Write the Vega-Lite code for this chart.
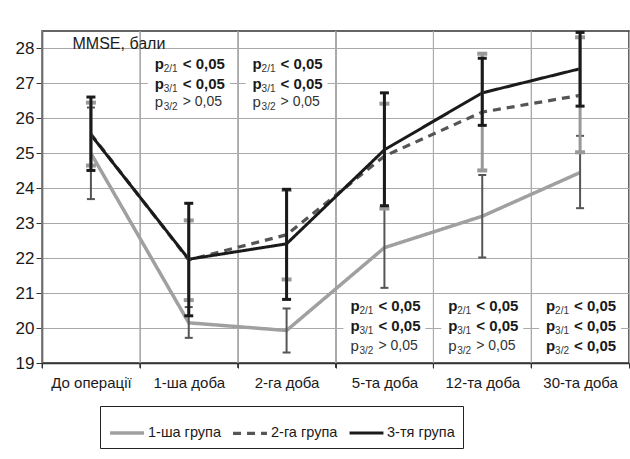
{
  "$schema": "https://vega.github.io/schema/vega-lite/v6.json",
  "width": 587,
  "height": 332,
  "autosize": {"type": "none"},
  "padding": {"left": 42, "top": 31, "right": 1, "bottom": 96},
  "background": "white",
  "config": {
    "font": "Liberation Sans",
    "view": {"stroke": "#333333", "strokeWidth": 1.5},
    "axis": {"domainColor": "#333333", "tickColor": "#333333", "gridColor": "#aaaaaa", "gridWidth": 1, "labelColor": "#1a1a1a", "domainWidth": 1.5},
    "axisX": {"tickBand": "extent", "grid": true, "tickSize": 5, "labelFontSize": 15, "labelPadding": 7, "labelAngle": 0, "title": null},
    "axisY": {"tickCount": 10, "grid": true, "tickSize": 6, "labelFontSize": 17, "labelPadding": 2}
  },
  "datasets": {
    "series": [
      {"day": "До операції", "group": "1-ша група", "mean": 25.0, "lo": 23.69, "hi": 26.31},
      {"day": "1-ша доба", "group": "1-ша група", "mean": 20.15, "lo": 19.72, "hi": 20.6},
      {"day": "2-га доба", "group": "1-ша група", "mean": 19.93, "lo": 19.3, "hi": 20.56},
      {"day": "5-та доба", "group": "1-ша група", "mean": 22.3, "lo": 21.15, "hi": 23.45},
      {"day": "12-та доба", "group": "1-ша група", "mean": 23.2, "lo": 22.02, "hi": 24.38},
      {"day": "30-та доба", "group": "1-ша група", "mean": 24.45, "lo": 23.43, "hi": 25.5},
      {"day": "До операції", "group": "2-га група", "mean": 25.55, "lo": 24.65, "hi": 26.45},
      {"day": "1-ша доба", "group": "2-га група", "mean": 21.95, "lo": 20.8, "hi": 23.08},
      {"day": "2-га доба", "group": "2-га група", "mean": 22.67, "lo": 21.39, "hi": 23.95},
      {"day": "5-та доба", "group": "2-га група", "mean": 24.92, "lo": 23.42, "hi": 26.42},
      {"day": "12-та доба", "group": "2-га група", "mean": 26.18, "lo": 24.51, "hi": 27.85},
      {"day": "30-та доба", "group": "2-га група", "mean": 26.66, "lo": 25.03, "hi": 28.32},
      {"day": "До операції", "group": "3-тя група", "mean": 25.53, "lo": 24.51, "hi": 26.61},
      {"day": "1-ша доба", "group": "3-тя група", "mean": 21.97, "lo": 20.35, "hi": 23.57},
      {"day": "2-га доба", "group": "3-тя група", "mean": 22.41, "lo": 20.82, "hi": 23.97},
      {"day": "5-та доба", "group": "3-тя група", "mean": 25.1, "lo": 23.5, "hi": 26.73},
      {"day": "12-та доба", "group": "3-тя група", "mean": 26.73, "lo": 25.8, "hi": 27.72},
      {"day": "30-та доба", "group": "3-тя група", "mean": 27.42, "lo": 26.35, "hi": 28.46}
    ],
    "notes": [
      {"day": "1-ша доба", "y": 27.56, "sub": "2/1", "rel": "< 0,05", "strong": true},
      {"day": "1-ша доба", "y": 26.99, "sub": "3/1", "rel": "< 0,05", "strong": true},
      {"day": "1-ша доба", "y": 26.46, "sub": "3/2", "rel": "> 0,05", "strong": false},
      {"day": "2-га доба", "y": 27.56, "sub": "2/1", "rel": "< 0,05", "strong": true},
      {"day": "2-га доба", "y": 26.99, "sub": "3/1", "rel": "< 0,05", "strong": true},
      {"day": "2-га доба", "y": 26.46, "sub": "3/2", "rel": "> 0,05", "strong": false},
      {"day": "5-та доба", "y": 20.62, "sub": "2/1", "rel": "< 0,05", "strong": true},
      {"day": "5-та доба", "y": 20.05, "sub": "3/1", "rel": "< 0,05", "strong": true},
      {"day": "5-та доба", "y": 19.5, "sub": "3/2", "rel": "> 0,05", "strong": false},
      {"day": "12-та доба", "y": 20.62, "sub": "2/1", "rel": "< 0,05", "strong": true},
      {"day": "12-та доба", "y": 20.05, "sub": "3/1", "rel": "< 0,05", "strong": true},
      {"day": "12-та доба", "y": 19.5, "sub": "3/2", "rel": "> 0,05", "strong": false},
      {"day": "30-та доба", "y": 20.62, "sub": "2/1", "rel": "< 0,05", "strong": true},
      {"day": "30-та доба", "y": 20.05, "sub": "3/1", "rel": "< 0,05", "strong": true},
      {"day": "30-та доба", "y": 19.5, "sub": "3/2", "rel": "< 0,05", "strong": true}
    ]
  },
  "encoding": {
    "x": {"field": "day", "type": "nominal",
      "scale": {"type": "band", "domain": ["До операції", "1-ша доба", "2-га доба", "5-та доба", "12-та доба", "30-та доба"], "paddingInner": 0, "paddingOuter": 0},
      "axis": {"title": null, "tickBand": "extent", "grid": true, "gridColor": "#aaaaaa", "ticks": true}}
  },
  "layer": [
    {
      "data": {"name": "series"},
      "transform": [{"filter": "datum.group === '1-ша група'"}],
      "layer": [
        {"mark": {"type": "rule", "color": "#aaaaaa", "strokeWidth": 1},
          "encoding": {"x": {"field": "day", "type": "nominal", "bandPosition": 0}}},
        {"mark": {"type": "rule", "color": "#333333", "strokeWidth": 1, "clip": false},
          "encoding": {"x": {"field": "day", "type": "nominal", "bandPosition": 0}, "y": {"datum": 19, "type": "quantitative"}, "y2": {"datum": 18.86}}}
      ]
    },
    {
      "data": {"name": "notes"},
      "mark": {"type": "tick", "color": "white", "opacity": 1, "size": 82, "thickness": 19},
      "encoding": {
        "y": {"field": "y", "type": "quantitative", "scale": {"domain": [19, 28.5], "nice": false, "zero": false},
          "axis": {"values": [19, 20, 21, 22, 23, 24, 25, 26, 27, 28], "grid": true,
            "title": "MMSE, бали", "titleAngle": 0, "titleX": 30, "titleY": 12, "titleAlign": "left", "titleBaseline": "middle", "titleFontSize": 16, "titleFontWeight": "normal", "titleColor": "#1a1a1a"}}
      }
    },
    {
      "data": {"name": "series"},
      "mark": {"type": "line"},
      "encoding": {
        "y": {"field": "mean", "type": "quantitative"},
        "color": {"field": "group", "type": "nominal",
          "scale": {"domain": ["1-ша група", "2-га група", "3-тя група"], "range": ["#a0a0a0", "#555555", "#1a1a1a"]},
          "legend": {"orient": "none", "legendX": 58, "legendY": 375, "direction": "horizontal", "title": null, "strokeColor": "#222222", "padding": 8, "labelFontSize": 14.5, "labelColor": "#1a1a1a", "symbolType": "stroke", "symbolSize": 1150, "labelOffset": 2, "columnPadding": 5}},
        "strokeDash": {"field": "group", "type": "nominal",
          "scale": {"domain": ["1-ша група", "2-га група", "3-тя група"], "range": [[1, 0], [8, 6], [1, 0]]}},
        "strokeWidth": {"field": "group", "type": "nominal",
          "scale": {"domain": ["1-ша група", "2-га група", "3-тя група"], "range": [3.5, 3, 2.5]}}
      }
    },
    {
      "data": {"name": "series"},
      "transform": [{"filter": "datum.group === '1-ша група'"}],
      "layer": [
        {"mark": {"type": "rule", "color": "#555555", "strokeWidth": 2},
          "encoding": {"y": {"field": "lo", "type": "quantitative"}, "y2": {"field": "hi"}}},
        {"transform": [{"fold": ["lo", "hi"], "as": ["end", "val"]}],
          "mark": {"type": "tick", "color": "#555555", "opacity": 1, "size": 8, "thickness": 2},
          "encoding": {"y": {"field": "val", "type": "quantitative"}}}
      ]
    },
    {
      "data": {"name": "series"},
      "transform": [{"filter": "datum.group === '2-га група'"}],
      "layer": [
        {"mark": {"type": "rule", "color": "#999999", "strokeWidth": 3},
          "encoding": {"y": {"field": "lo", "type": "quantitative"}, "y2": {"field": "hi"}}},
        {"transform": [{"fold": ["lo", "hi"], "as": ["end", "val"]}],
          "mark": {"type": "tick", "color": "#999999", "opacity": 1, "size": 10, "thickness": 4},
          "encoding": {"y": {"field": "val", "type": "quantitative"}}}
      ]
    },
    {
      "data": {"name": "series"},
      "transform": [{"filter": "datum.group === '3-тя група'"}],
      "layer": [
        {"mark": {"type": "rule", "color": "#1a1a1a", "strokeWidth": 3},
          "encoding": {"y": {"field": "lo", "type": "quantitative"}, "y2": {"field": "hi"}}},
        {"transform": [{"fold": ["lo", "hi"], "as": ["end", "val"]}],
          "mark": {"type": "tick", "color": "#1a1a1a", "opacity": 1, "size": 9, "thickness": 3},
          "encoding": {"y": {"field": "val", "type": "quantitative"}}}
      ]
    },
    {
      "data": {"name": "notes"},
      "transform": [{"filter": "datum.strong"}],
      "layer": [
        {"mark": {"type": "text", "text": "p", "align": "left", "baseline": "middle", "dx": -34, "fontSize": 15, "fontWeight": "bold", "color": "#1a1a1a"},
          "encoding": {"y": {"field": "y", "type": "quantitative"}}},
        {"mark": {"type": "text", "align": "left", "baseline": "middle", "dx": -6, "fontSize": 15, "fontWeight": "bold", "color": "#1a1a1a"},
          "encoding": {"y": {"field": "y", "type": "quantitative"}, "text": {"field": "rel"}}}
      ]
    },
    {
      "data": {"name": "notes"},
      "transform": [{"filter": "!datum.strong"}],
      "layer": [
        {"mark": {"type": "text", "text": "p", "align": "left", "baseline": "middle", "dx": -34, "fontSize": 15, "color": "#333333"},
          "encoding": {"y": {"field": "y", "type": "quantitative"}}},
        {"mark": {"type": "text", "align": "left", "baseline": "middle", "dx": -6, "fontSize": 14, "color": "#333333"},
          "encoding": {"y": {"field": "y", "type": "quantitative"}, "text": {"field": "rel"}}}
      ]
    },
    {
      "data": {"name": "notes"},
      "mark": {"type": "text", "align": "left", "baseline": "middle", "dx": -25, "dy": 5, "fontSize": 10, "color": "#333333"},
      "encoding": {"y": {"field": "y", "type": "quantitative"}, "text": {"field": "sub"}}
    }
  ]
}
